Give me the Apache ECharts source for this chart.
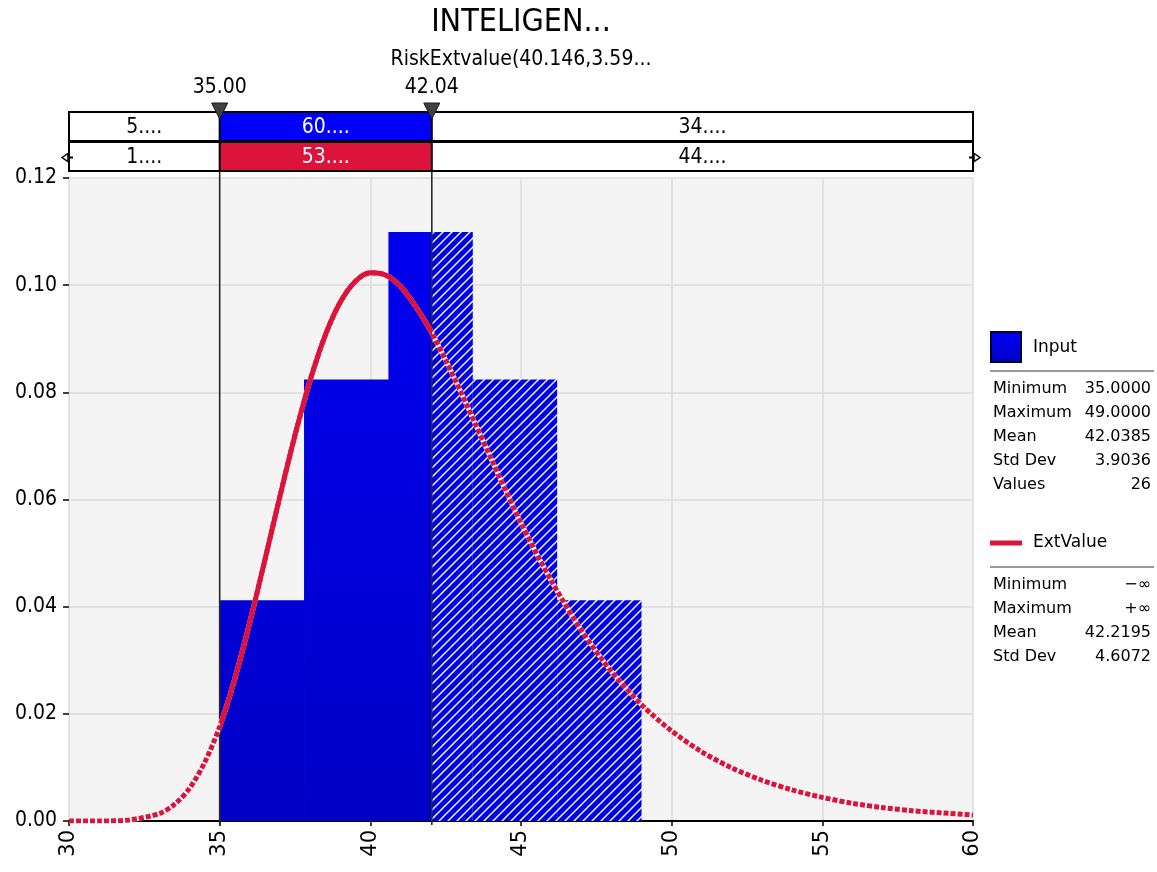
<!DOCTYPE html>
<html><head><meta charset="utf-8">
<script src="https://cdn.jsdelivr.net/npm/echarts@6/dist/echarts.min.js"></script>
<style>html,body{margin:0;padding:0;background:#fff}#c{width:1157px;height:872px}</style>
</head><body><div id="c"></div>
<script>
const titleText = 'INTELIGEN...';
const subtitleText = 'RiskExtvalue(40.146,3.59...';
const delimiters = [35.00, 42.04];
const delimiterLabels = ['35.00', '42.04'];
const inputPercents = ['5....', '60....', '34....'];
const fitPercents = ['1....', '53....', '44....'];
const binEdges = [35, 37.8, 40.6, 43.4, 46.2, 49];
const binDensity = [0.0412, 0.0824, 0.1099, 0.0824, 0.0412];
const curveX = [30, 31, 32, 33, 33.5, 34, 34.5, 35, 35.5, 36, 36.5, 37, 37.5, 38, 38.5, 39, 39.5, 40, 40.5, 41, 41.5, 42, 42.5, 43, 43.5, 44, 45, 46, 47, 48, 49, 50, 51, 52, 53, 54, 55, 56, 57, 58, 59, 60];
const curveY = [0.0000, 0.0000, 0.0002, 0.0014, 0.0031, 0.0061, 0.0109, 0.0176, 0.0265, 0.0371, 0.0487, 0.0606, 0.0720, 0.0822, 0.0906, 0.0968, 0.1007, 0.1023, 0.1019, 0.0998, 0.0961, 0.0915, 0.0860, 0.0801, 0.0739, 0.0677, 0.0556, 0.0449, 0.0356, 0.0279, 0.0217, 0.0168, 0.0129, 0.0099, 0.0076, 0.0058, 0.0044, 0.0033, 0.0025, 0.0019, 0.0015, 0.0011];
const inputName = 'Input';
const inputStatNames = ['Minimum', 'Maximum', 'Mean', 'Std Dev', 'Values'];
const inputStatValues = ['35.0000', '49.0000', '42.0385', '3.9036', '26'];
const fitName = 'ExtValue';
const fitStatNames = ['Minimum', 'Maximum', 'Mean', 'Std Dev'];
const fitStatValues = ['\u2212\u221e', '+\u221e', '42.2195', '4.6072'];
const xMin = 30, xMax = 60, xInterval = 5;
const yMin = 0, yMax = 0.12, yInterval = 0.02;

const COND = '"DejaVu Sans Condensed", "DejaVu Sans", sans-serif';
const SANS = '"DejaVu Sans", Verdana, sans-serif';
const RED = '#dc143c';

// build bar segments split at the right delimiter
const solidBars = [], hatchBars = [];
for (let i = 0; i < binDensity.length; i++) {
  const a = binEdges[i], b = binEdges[i + 1], h = binDensity[i];
  const cut = delimiters[1];
  if (b <= cut) solidBars.push([a, b, h]);
  else if (a >= cut) hatchBars.push([a, b, h]);
  else { solidBars.push([a, cut, h]); hatchBars.push([cut, b, h]); }
}
const curveData = curveX.map((x, i) => [x, curveY[i]]);

// hatch pattern
const T = 9;
const pc = document.createElement('canvas');
pc.width = T; pc.height = T;
const g = pc.getContext('2d');
g.fillStyle = '#0000e6'; g.fillRect(0, 0, T, T);
g.strokeStyle = '#ffffff'; g.lineWidth = 1.4;
g.beginPath();
g.moveTo(-1, T + 1); g.lineTo(T + 1, -1);
g.moveTo(-1, 1); g.lineTo(1, -1);
g.moveTo(T - 1, T + 1); g.lineTo(T + 1, T - 1);
g.stroke();

const GRID = { left: 69, right: 184, top: 178, bottom: 51 };
const solidFill = new echarts.graphic.LinearGradient(0, GRID.top, 0, 872 - GRID.bottom,
  [{ offset: 0, color: '#0000f4' }, { offset: 1, color: '#0000c6' }], true);

function barRenderer(fill, overlap) {
  return function (params, api) {
    const p0 = api.coord([api.value(0), api.value(2)]);
    const p1 = api.coord([api.value(1), 0]);
    return { type: 'rect', shape: { x: p0[0], y: p0[1], width: p1[0] - p0[0] + overlap, height: p1[1] - p0[1] }, style: { fill: fill } };
  };
}

const chart = echarts.init(document.getElementById('c'), null, { renderer: 'canvas' });
chart.setOption({
  animation: false,
  backgroundColor: '#ffffff',
  grid: { left: GRID.left, right: GRID.right, top: GRID.top, bottom: GRID.bottom, show: true, backgroundColor: '#f4f4f4', borderWidth: 0 },
  xAxis: {
    type: 'value', min: xMin, max: xMax, interval: xInterval,
    axisLine: { show: true, onZero: false, lineStyle: { color: '#000', width: 2 } },
    axisTick: { show: true, length: 5, lineStyle: { color: '#000', width: 1.5 } },
    axisLabel: { rotate: 90, fontSize: 21, color: '#000', fontFamily: SANS, margin: 9 },
    splitLine: { show: true, lineStyle: { color: '#dcdcdc', width: 1.5 } }
  },
  yAxis: {
    type: 'value', min: yMin, max: yMax, interval: yInterval,
    axisLine: { show: false },
    axisTick: { show: true, length: 6, lineStyle: { color: '#000', width: 1.5 } },
    axisLabel: { fontSize: 21, color: '#000', fontFamily: COND, margin: 12, formatter: v => v.toFixed(2) },
    splitLine: { show: true, lineStyle: { color: '#dcdcdc', width: 1.5 } }
  },
  visualMap: {
    show: false, type: 'piecewise', seriesIndex: 4, dimension: 0,
    pieces: [{ gte: delimiters[0], lte: delimiters[1], color: RED }],
    outOfRange: { color: 'rgba(220,20,60,0)' }
  },
  series: [
    { type: 'custom', z: 1, data: solidBars, renderItem: barRenderer(solidFill, 0.6), encode: { x: [0, 1], y: 2 }, silent: true },
    { type: 'custom', z: 1, data: hatchBars, renderItem: barRenderer({ image: pc, repeat: 'repeat' }, 0), encode: { x: [0, 1], y: 2 }, silent: true },
    { type: 'line', z: 5, data: curveData, smooth: 0.3, showSymbol: false, silent: true, lineStyle: { color: '#ffffff', width: 5 } },
    { type: 'line', z: 6, data: curveData, smooth: 0.3, showSymbol: false, silent: true, lineStyle: { color: RED, width: 5, type: [5, 2] } },
    { type: 'line', z: 7, data: curveData, smooth: 0.3, showSymbol: false, silent: true, lineStyle: { width: 5 } }
  ]
});

const px = v => chart.convertToPixel({ xAxisIndex: 0 }, v);
const py = v => chart.convertToPixel({ yAxisIndex: 0 }, v);
const L = px(xMin), R = px(xMax), d0 = px(delimiters[0]), d1 = px(delimiters[1]);
const B = py(yMin);
const r1 = 112, rh = 29, r2 = 142;
const cx = (L + R) / 2;
const els = [];
els.push({ type: 'text', x: cx, y: 23, z: 10, style: { text: titleText, font: '32px ' + COND, fill: '#000', align: 'center', verticalAlign: 'middle' } });
els.push({ type: 'text', x: cx, y: 60, z: 10, style: { text: subtitleText, font: '21px ' + COND, fill: '#000', align: 'center', verticalAlign: 'middle' } });
// box fills
els.push({ type: 'rect', z: 10, shape: { x: L, y: r1, width: R - L, height: rh }, style: { fill: '#fff' } });
els.push({ type: 'rect', z: 10, shape: { x: L, y: r2, width: R - L, height: rh }, style: { fill: '#fff' } });
els.push({ type: 'rect', z: 10, shape: { x: d0, y: r1, width: d1 - d0, height: rh }, style: { fill: '#0000ff' } });
els.push({ type: 'rect', z: 10, shape: { x: d0, y: r2, width: d1 - d0, height: rh }, style: { fill: RED } });
// box borders
els.push({ type: 'rect', z: 11, shape: { x: L, y: r1, width: R - L, height: rh }, style: { fill: null, stroke: '#000', lineWidth: 2 } });
els.push({ type: 'rect', z: 11, shape: { x: L, y: r2, width: R - L, height: rh }, style: { fill: null, stroke: '#000', lineWidth: 2 } });
// cell texts
const cellsX = [(L + d0) / 2, (d0 + d1) / 2, (d1 + R) / 2];
for (let i = 0; i < 3; i++) {
  const col = i === 1 ? '#fff' : '#000';
  els.push({ type: 'text', z: 12, x: cellsX[i], y: r1 + rh / 2 + 1, style: { text: inputPercents[i], font: '21px ' + COND, fill: col, align: 'center', verticalAlign: 'middle' } });
  els.push({ type: 'text', z: 12, x: cellsX[i], y: r2 + rh / 2 + 1, style: { text: fitPercents[i], font: '21px ' + COND, fill: col, align: 'center', verticalAlign: 'middle' } });
}
// delimiter lines, markers, labels
[d0, d1].forEach((d, i) => {
  els.push({ type: 'line', z: 4, shape: { x1: d, y1: r1, x2: d, y2: B + 4 }, style: { stroke: '#2a2a2a', lineWidth: 1.6 } });
  els.push({ type: 'line', z: 12, shape: { x1: d, y1: r1, x2: d, y2: r2 + rh }, style: { stroke: '#000', lineWidth: 2 } });
  els.push({ type: 'polygon', z: 13, shape: { points: [[d - 8, 103], [d + 8, 103], [d, 119]] }, style: { fill: '#404040', stroke: '#1a1a1a', lineWidth: 1 } });
  els.push({ type: 'text', z: 13, x: d, y: 88, style: { text: delimiterLabels[i], font: '21px ' + COND, fill: '#000', align: 'center', verticalAlign: 'middle' } });
});
// end arrows on second row
const ay = r2 + rh / 2 + 1;
els.push({ type: 'polygon', z: 13, shape: { points: [[L - 7, ay], [L - 1, ay - 4], [L - 1, ay + 4]] }, style: { fill: '#fff', stroke: '#000', lineWidth: 1.5 } });
els.push({ type: 'line', z: 13, shape: { x1: L - 1, y1: ay, x2: L + 4, y2: ay }, style: { stroke: '#000', lineWidth: 2 } });
els.push({ type: 'polygon', z: 13, shape: { points: [[R + 7, ay], [R + 1, ay - 4], [R + 1, ay + 4]] }, style: { fill: '#fff', stroke: '#000', lineWidth: 1.5 } });
els.push({ type: 'line', z: 13, shape: { x1: R - 4, y1: ay, x2: R + 1, y2: ay }, style: { stroke: '#000', lineWidth: 2 } });

// legend
const LX = 990, VX = 1151;
els.push({ type: 'rect', z: 10, shape: { x: LX + 1, y: 332, width: 30, height: 30 }, style: { fill: new echarts.graphic.LinearGradient(0, 0, 0, 1, [{ offset: 0, color: '#0000f4' }, { offset: 1, color: '#0000c6' }]), stroke: '#000030', lineWidth: 2 } });
els.push({ type: 'text', z: 10, x: 1033, y: 348, style: { text: inputName, font: '17px ' + SANS, fill: '#000', verticalAlign: 'middle' } });
els.push({ type: 'line', z: 10, shape: { x1: LX, y1: 371, x2: 1154, y2: 371 }, style: { stroke: '#999', lineWidth: 2 } });
inputStatNames.forEach((n, i) => {
  const y = 389 + i * 24;
  els.push({ type: 'text', z: 10, x: 993, y: y, style: { text: n, font: '16px ' + SANS, fill: '#000', verticalAlign: 'middle' } });
  els.push({ type: 'text', z: 10, x: VX, y: y, style: { text: inputStatValues[i], font: '16px ' + SANS, fill: '#000', align: 'right', verticalAlign: 'middle' } });
});
els.push({ type: 'line', z: 10, shape: { x1: LX, y1: 543, x2: 1022, y2: 543 }, style: { stroke: RED, lineWidth: 5 } });
els.push({ type: 'text', z: 10, x: 1033, y: 543, style: { text: fitName, font: '17px ' + SANS, fill: '#000', verticalAlign: 'middle' } });
els.push({ type: 'line', z: 10, shape: { x1: LX, y1: 567, x2: 1154, y2: 567 }, style: { stroke: '#999', lineWidth: 2 } });
fitStatNames.forEach((n, i) => {
  const y = 585 + i * 24;
  els.push({ type: 'text', z: 10, x: 993, y: y, style: { text: n, font: '16px ' + SANS, fill: '#000', verticalAlign: 'middle' } });
  els.push({ type: 'text', z: 10, x: VX, y: y, style: { text: fitStatValues[i], font: '16px ' + SANS, fill: '#000', align: 'right', verticalAlign: 'middle' } });
});

chart.setOption({ graphic: { elements: els } });
</script>
</body></html>
